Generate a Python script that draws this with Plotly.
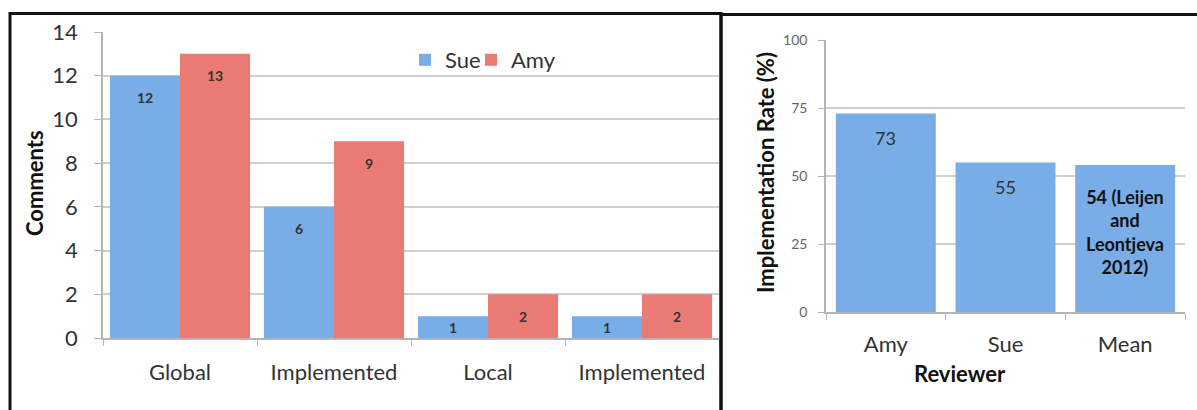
import plotly.graph_objects as go

# ---------------- data ----------------
comment_types = ["Global", "Implemented", "Local", "Implemented"]
sue_counts = [12, 6, 1, 1]
amy_counts = [13, 9, 2, 2]

reviewers = ["Amy", "Sue", "Mean"]
impl_rate = [73, 55, 54]
impl_labels = ["73", "55", "54 (Leijen<br>and<br>Leontjeva<br>2012)"]

left_ticks = [0, 2, 4, 6, 8, 10, 12, 14]
right_ticks = [0, 25, 50, 75, 100]

# ---------------- style ----------------
W, H = 1197, 410
FONT = "Lato, 'Open Sans', sans-serif"
SUE_COLOR = "#78ade7"
AMY_COLOR = "#ea7b74"
GRID = "#cfcfcf"
AXIS = "#b5b5b5"


def px_x(p):
    return p / W


def px_y(p):
    return (H - p) / H


cat_ids = [f"{name} {i}" for i, name in enumerate(comment_types)]

fig = go.Figure()
fig.add_trace(go.Bar(name="Sue", x=cat_ids, y=sue_counts, marker_color=SUE_COLOR,
                     marker_line_width=0, xaxis="x", yaxis="y", legend="legend"))
fig.add_trace(go.Bar(name="Amy", x=cat_ids, y=amy_counts, marker_color=AMY_COLOR,
                     marker_line_width=0, xaxis="x", yaxis="y", legend="legend2"))
fig.add_trace(go.Bar(name="Implementation rate", x=reviewers, y=impl_rate,
                     marker_color=SUE_COLOR, marker_line_width=0, width=0.835,
                     showlegend=False, xaxis="x2", yaxis="y2"))

BARGAP = 0.09
half = (1 - BARGAP) / 4

annotations = []
# data labels, left chart
for i in range(len(cat_ids)):
    for off, v in ((-half, sue_counts[i]), (half, amy_counts[i])):
        small = v < 2
        annotations.append(dict(
            x=i + off, y=v / 2 if small else v, xref="x", yref="y",
            xanchor="center", yanchor="middle",
            yshift=0 if small else -22, text=str(v), showarrow=False,
            font=dict(family=FONT, size=14, color="#333333", weight="bold")))

# data labels, right chart
for i, (v, lab) in enumerate(zip(impl_rate, impl_labels)):
    multi = "<br>" in lab
    annotations.append(dict(
        x=i, y=v, xref="x2", yref="y2", xanchor="center", yanchor="top",
        yshift=-19 if multi else -12, text=lab, showarrow=False,
        font=dict(family=FONT, size=18,
                  color="#111111" if multi else "#333333",
                  weight="bold" if multi else "normal")))

# axis titles
title_font = dict(family=FONT, size=22, color="#111111", weight="bold")
annotations += [
    dict(x=px_x(35), y=px_y(183), xref="paper", yref="paper", text="Comments",
         xanchor="center", yanchor="middle", textangle=-90, showarrow=False,
         font=title_font),
    dict(x=px_x(765), y=px_y(173), xref="paper", yref="paper",
         text="Implementation Rate (%)", xanchor="center", yanchor="middle",
         textangle=-90, showarrow=False, font=title_font),
    dict(x=px_x(960), y=px_y(373), xref="paper", yref="paper", text="Reviewer",
         xanchor="center", yanchor="middle", showarrow=False, font=title_font),
]

shapes = [
    dict(type="rect", xref="paper", yref="paper", x0=px_x(10), x1=px_x(721),
         y0=-0.1, y1=px_y(13.5), line=dict(color="#111111", width=3)),
    dict(type="rect", xref="paper", yref="paper", x0=px_x(721), x1=1.05,
         y0=-0.1, y1=px_y(14.5), line=dict(color="#111111", width=3)),
]

legend_common = dict(orientation="h", xanchor="left", yanchor="top",
                     bgcolor="rgba(0,0,0,0)", itemwidth=30,
                     font=dict(family=FONT, size=22, color="#333333"))

fig.update_layout(
    template="none",
    width=W, height=H, margin=dict(l=0, r=0, t=0, b=0, autoexpand=False),
    paper_bgcolor="white", plot_bgcolor="white",
    barmode="group", bargap=BARGAP, bargroupgap=0,
    font=dict(family=FONT, size=22, color="#333333"),
    showlegend=True,
    legend=dict(x=px_x(405), y=px_y(39), **legend_common),
    legend2=dict(x=px_x(471), y=px_y(39), **legend_common),
    xaxis=dict(domain=[px_x(103), px_x(719)], type="category", automargin=False,
               tickmode="array", tickvals=cat_ids, ticktext=comment_types,
               tickson="boundaries", ticks="outside", ticklen=6, tickcolor=AXIS,
               showline=True, linecolor=AXIS, linewidth=1.5, showgrid=False,
               ticklabelstandoff=14, range=[-0.5, 3.5], anchor="y",
               tickfont=dict(family=FONT, size=22, color="#333333")),
    yaxis=dict(domain=[px_y(338), px_y(32)], range=[0, 14], tickvals=left_ticks,
               automargin=False,
               ticks="outside", ticklen=7, tickcolor=AXIS, showline=True,
               linecolor=AXIS, linewidth=1.5, gridcolor=GRID, gridwidth=1.5,
               zeroline=False, ticklabelstandoff=12, anchor="x",
               tickfont=dict(family=FONT, size=22, color="#333333")),
    xaxis2=dict(domain=[px_x(826), px_x(1185)], type="category", automargin=False,
                tickson="boundaries", ticks="outside", ticklen=6, tickcolor=AXIS,
                showline=True, linecolor=AXIS, linewidth=1.5, showgrid=False,
                ticklabelstandoff=12, range=[-0.5, 2.5], anchor="y2",
                tickfont=dict(family=FONT, size=22, color="#333333")),
    yaxis2=dict(domain=[px_y(312), px_y(40)], range=[0, 100], tickvals=right_ticks,
                automargin=False,
                ticks="outside", ticklen=6, tickcolor=AXIS, showline=True,
                linecolor=AXIS, linewidth=1.5, gridcolor=GRID, gridwidth=1.5,
                zeroline=False, ticklabelstandoff=8, anchor="x2",
                tickfont=dict(family=FONT, size=14, color="#666666")),
    annotations=annotations,
    shapes=shapes,
)

fig.write_html("out.html")
